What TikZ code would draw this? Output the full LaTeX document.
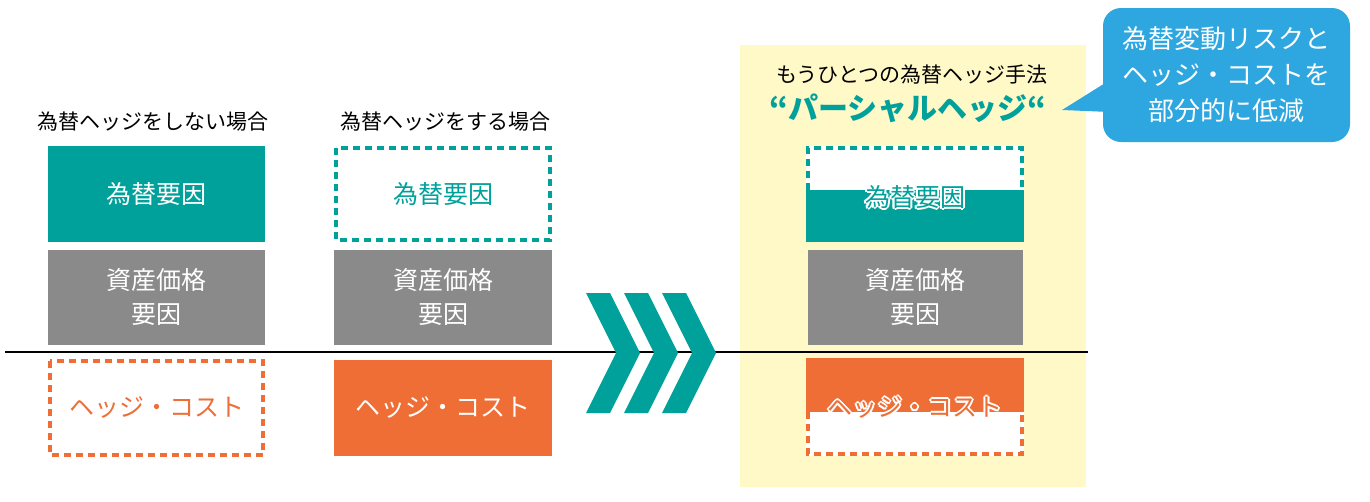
\documentclass[tikz,border=0pt]{standalone}
\usepackage{fontspec}
\setmainfont{Noto Sans CJK JP}
\usetikzlibrary{calc}
\definecolor{teal1}{HTML}{00A19A}
\definecolor{gray1}{HTML}{8A8A8A}
\definecolor{orng}{HTML}{EE6E36}
\definecolor{yel}{HTML}{FFF9C8}
\definecolor{blu}{HTML}{2EA7E0}
\begin{document}
\begin{tikzpicture}[x=1pt,y=-1pt,
  lbl/.style={font=\fontsize{25}{34}\selectfont,align=center},
  ttl/.style={font=\fontsize{21}{25}\selectfont},
  dsh/.style={line width=3.5pt,dash pattern=on 7pt off 5pt}]
\useasboundingbox (0,0) rectangle (1370,501);
\fill[yel] (740,45) rectangle (1086,487);
% left column
\fill[teal1] (48,146) rectangle (265,242);
\node[lbl,text=white] (l1) at (156.5,194) {為替要因};
\fill[gray1] (48,250) rectangle (265,345);
\node[lbl,text=white] (l2) at (156.5,297) {資産価格\\要因};
\draw[orng,dsh] (50,361) rectangle (263,455);
\node[lbl,text=orng] (l3) at (156.5,408) {ヘッジ・コスト};
\node[ttl] (t1) at (153,122) {為替ヘッジをしない場合};
% middle
\draw[teal1,dsh] (336,148) rectangle (550,240);
\node[lbl,text=teal1] (m1) at (443,194) {為替要因};
\fill[gray1] (334,250) rectangle (552,345);
\node[lbl,text=white] (m2) at (443,297) {資産価格\\要因};
\fill[orng] (334,360) rectangle (552,456);
\node[lbl,text=white] (m3) at (443,408) {ヘッジ・コスト};
\node[ttl] (t2) at (445,122) {為替ヘッジをする場合};
% line
\draw[line width=2pt] (5,352) -- (1088,352);
% chevrons
\foreach \d in {0,38,76}
  \fill[teal1] (586+\d,293) -- (610+\d,293) -- (640+\d,353) -- (610+\d,413) -- (586+\d,413) -- (616+\d,353) -- cycle;
% right column
\fill[white] (806,146) rectangle (1024,190);
\draw[teal1,dsh] (808,190) -- (808,148) -- (1022,148) -- (1022,190);
\fill[teal1] (806,190) rectangle (1024,242);
\foreach \a in {0,45,...,315}
  \node[lbl,text=white] at ($(915,197)+(\a:2)$) {為替要因};
\node[lbl,text=teal1] (r1) at (915,197) {為替要因};
\fill[gray1] (808,250) rectangle (1023,345);
\node[lbl,text=white] (r2) at (915,297) {資産価格\\要因};
\fill[orng] (806,358) rectangle (1024,412);
\fill[white] (806,412) rectangle (1024,456);
\draw[orng,dsh] (808,412) -- (808,454) -- (1022,454) -- (1022,412);
\foreach \a in {0,45,...,315}
  \node[lbl,text=white] at ($(915,408)+(\a:2)$) {ヘッジ・コスト};
\node[lbl,text=orng] (r3) at (915,408) {ヘッジ・コスト};
\node[ttl] (t3) at (912,75) {もうひとつの為替ヘッジ手法};
\node[font=\fontsize{30}{34}\selectfont\bfseries,text=teal1] (t4) at (908,108) {“パーシャルヘッジ“};
% callout
\fill[blu,rounded corners=18pt] (1103,8) rectangle (1350,142);
\fill[blu] (1110,80) -- (1062,110) -- (1110,112) -- cycle;
\node[font=\fontsize{26}{36}\selectfont,text=white,align=center] (c) at (1226,75) {為替変動リスクと\\ヘッジ・コストを\\部分的に低減};
\end{tikzpicture}
\end{document}
